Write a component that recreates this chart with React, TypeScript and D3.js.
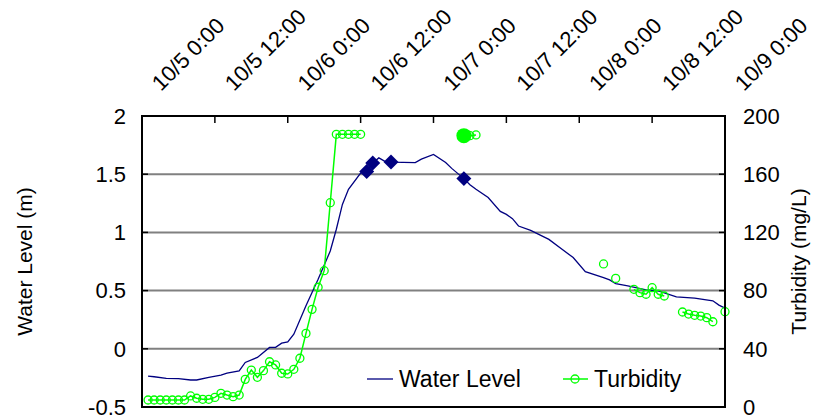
import { useEffect, useRef } from 'react';
import * as d3 from 'd3';

// hours since 10/5 0:00
const levelHours = [1, 2, 4, 6, 8, 9, 11, 13, 14, 16, 17, 19, 21, 22, 23, 24, 25, 27, 28, 29, 31, 32, 33, 34, 36, 37, 38, 39, 40, 41, 45, 46, 48, 50, 51, 53, 54, 55, 57, 59, 60, 61, 62, 64, 67, 69, 71, 73, 76, 77, 78, 80, 83, 85, 88, 91, 94, 95, 96];
const levelValues = [-0.234, -0.24, -0.254, -0.257, -0.268, -0.268, -0.245, -0.226, -0.208, -0.189, -0.117, -0.074, 0.012, 0.012, 0.049, 0.06, 0.126, 0.369, 0.484, 0.598, 0.84, 1.027, 1.24, 1.37, 1.51, 1.524, 1.597, 1.64, 1.61, 1.604, 1.6, 1.63, 1.67, 1.6, 1.55, 1.462, 1.41, 1.37, 1.3, 1.18, 1.155, 1.118, 1.055, 1.018, 0.94, 0.861, 0.784, 0.662, 0.612, 0.592, 0.56, 0.54, 0.506, 0.497, 0.446, 0.435, 0.412, 0.375, 0.35];

// hourly turbidity, hour 1..96 (null = no reading)
const turbidity = [
  4.8, 4.8, 4.8, 4.8, 4.8, 4.8, 4.8, 7.6, 6.0, 5.3, 5.3, 6.6,
  9.4, 8.2, 7.1, 8.2, 19, 25.4, 20.4, 25, 31.1, 28.9, 23.2, 22.7,
  25.9, 33.5, 50.6, 67.1, 82.3, 93.7, 140.4, 187.4, 187.4, 187.4, 187.4, 187.4,
  null, null, null, null, null, null, null, null, null, null, null, null,
  null, null, null, null, 186.5, 186.5, 187, null, null, null, null, null,
  null, null, null, null, null, null, null, null, null, null, null, null,
  null, null, null, 98.3, null, 88.4, null, null, 80.9, 78.6, 77.5, 82,
  77.5, 76.3, null, null, 65.3, 63.9, 63, 62.5, 61.4, 58.6, null, 65.5,
];

const markHours = [37, 38, 41, 53];
const markLevels = [1.524, 1.597, 1.604, 1.462];
const peakHours = [53];
const peakTurbidity = [186.5];

const timeLabels = ['10/5 0:00', '10/5 12:00', '10/6 0:00', '10/6 12:00', '10/7 0:00', '10/7 12:00', '10/8 0:00', '10/8 12:00', '10/9 0:00'];
const levelTicks = [-0.5, 0, 0.5, 1, 1.5, 2];
const turbTicks = [0, 40, 80, 120, 160, 200];

const FONT = "'Liberation Sans', Arial, sans-serif";
const NAVY = '#000080';
const GREEN = '#00ff00';

export default function App() {
  const svgRef = useRef<SVGSVGElement>(null);

  useEffect(() => {
    const svg = d3.select(svgRef.current);
    svg.selectAll('*').remove();

    const left = 142, right = 725, top = 116, bottom = 407;
    const x = d3.scaleLinear().domain([0, 96]).range([left, right]);
    const yL = d3.scaleLinear().domain([-0.5, 2]).range([bottom, top]);
    const yR = d3.scaleLinear().domain([0, 200]).range([bottom, top]);

    svg.attr('width', 814).attr('height', 420).style('font-family', FONT);

    // gridlines
    svg.append('g')
      .selectAll('line')
      .data(levelTicks.slice(1, -1))
      .join('line')
      .attr('x1', left).attr('x2', right)
      .attr('y1', (d) => yL(d)).attr('y2', (d) => yL(d))
      .attr('stroke', '#808080').attr('stroke-width', 2);

    // inside ticks
    const ticks = svg.append('g').attr('stroke', '#000').attr('stroke-width', 1.5);
    ticks.selectAll('.tl').data(levelTicks).join('line')
      .attr('x1', left).attr('x2', left + 6)
      .attr('y1', (d) => yL(d)).attr('y2', (d) => yL(d));
    ticks.selectAll('.tr').data(turbTicks).join('line')
      .attr('x1', right - 6).attr('x2', right)
      .attr('y1', (d) => yR(d)).attr('y2', (d) => yR(d));
    ticks.selectAll('.tt').data(timeLabels.map((_, i) => i * 12)).join('line')
      .attr('x1', (d) => x(d)).attr('x2', (d) => x(d))
      .attr('y1', top).attr('y2', top + 7);

    // water level line
    const wl = levelHours.map((h, i) => [h, levelValues[i]] as [number, number]);
    svg.append('path')
      .datum(wl)
      .attr('fill', 'none').attr('stroke', NAVY).attr('stroke-width', 1.3)
      .attr('d', d3.line<[number, number]>().x((d) => x(d[0])).y((d) => yL(d[1])));

    // turbidity line + markers
    const tb = turbidity.map((v, i) => [i + 1, v] as [number, number | null]);
    svg.append('path')
      .datum(tb)
      .attr('fill', 'none').attr('stroke', GREEN).attr('stroke-width', 1.5)
      .attr('d', d3.line<[number, number | null]>()
        .defined((d) => d[1] !== null)
        .x((d) => x(d[0])).y((d) => yR(d[1] as number)));
    svg.append('g')
      .selectAll('circle')
      .data(tb.filter((d) => d[1] !== null))
      .join('circle')
      .attr('cx', (d) => x(d[0])).attr('cy', (d) => yR(d[1] as number))
      .attr('r', 4).attr('fill', 'none').attr('stroke', GREEN).attr('stroke-width', 1.3);

    // highlighted points
    svg.append('g')
      .selectAll('rect')
      .data(markHours.map((h, i) => [h, markLevels[i]]))
      .join('rect')
      .attr('x', -5.3).attr('y', -5.3).attr('width', 10.6).attr('height', 10.6)
      .attr('fill', NAVY)
      .attr('transform', (d) => `translate(${x(d[0])},${yL(d[1])}) rotate(45)`);
    svg.append('g')
      .selectAll('circle')
      .data(peakHours.map((h, i) => [h, peakTurbidity[i]]))
      .join('circle')
      .attr('cx', (d) => x(d[0])).attr('cy', (d) => yR(d[1]))
      .attr('r', 7.5).attr('fill', GREEN);

    // frame
    svg.append('rect')
      .attr('x', left).attr('y', top).attr('width', right - left).attr('height', bottom - top)
      .attr('fill', 'none').attr('stroke', '#000').attr('stroke-width', 2);

    // tick labels
    svg.append('g').selectAll('text').data(levelTicks).join('text')
      .attr('x', 126).attr('y', (d) => yL(d)).attr('dy', '0.35em')
      .attr('text-anchor', 'end').attr('font-size', 22)
      .text((d) => String(d));
    svg.append('g').selectAll('text').data(turbTicks).join('text')
      .attr('x', 743).attr('y', (d) => yR(d)).attr('dy', '0.35em')
      .attr('font-size', 22)
      .text((d) => String(d));
    svg.append('g').selectAll('text').data(timeLabels).join('text')
      .attr('transform', (_, i) => `translate(${x(i * 12) + 19},92) rotate(-45)`)
      .attr('font-size', 22)
      .text((d) => d);

    // axis titles
    svg.append('text')
      .attr('transform', `translate(32,${(top + bottom) / 2}) rotate(-90)`)
      .attr('text-anchor', 'middle').attr('font-size', 21)
      .text('Water Level (m)');
    svg.append('text')
      .attr('transform', `translate(806,${(top + bottom) / 2}) rotate(-90)`)
      .attr('text-anchor', 'middle').attr('font-size', 21)
      .text('Turbidity (mg/L)');

    // legend
    const lg = svg.append('g');
    lg.append('line').attr('x1', 367).attr('x2', 393).attr('y1', 379).attr('y2', 379)
      .attr('stroke', NAVY).attr('stroke-width', 1.3);
    lg.append('text').attr('x', 399).attr('y', 387).attr('font-size', 23).text('Water Level');
    lg.append('line').attr('x1', 563).attr('x2', 588).attr('y1', 379).attr('y2', 379)
      .attr('stroke', GREEN).attr('stroke-width', 1.5);
    lg.append('circle').attr('cx', 575).attr('cy', 379).attr('r', 4)
      .attr('fill', 'none').attr('stroke', GREEN).attr('stroke-width', 1.3);
    lg.append('text').attr('x', 594).attr('y', 387).attr('font-size', 23).text('Turbidity');
  }, []);

  return (
    <div style={{ position: 'absolute', left: 0, top: 0, background: '#fff' }}>
      <svg ref={svgRef}></svg>
    </div>
  );
}
